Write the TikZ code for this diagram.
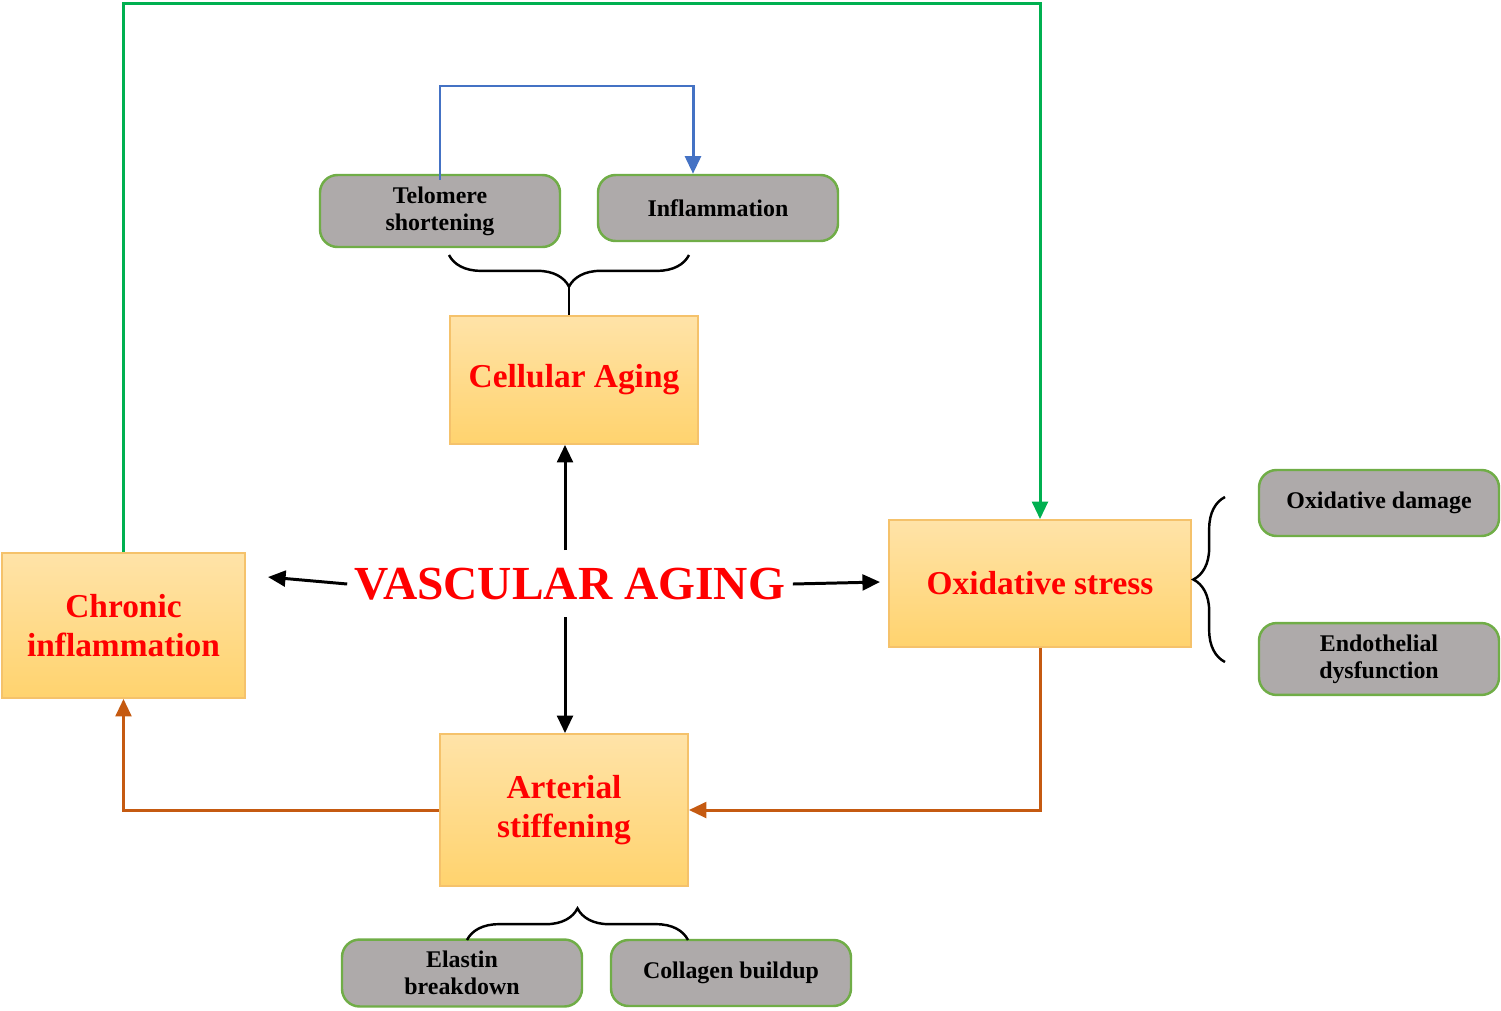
\documentclass[tikz,border=0pt]{standalone}
\usepackage{fontspec}
\setmainfont{Liberation Serif}
\usetikzlibrary{arrows.meta,decorations.pathreplacing}
\definecolor{grayfill}{HTML}{AEAAAA}
\definecolor{leafgreen}{HTML}{70AD47}
\definecolor{boxtop}{HTML}{FFE3A8}
\definecolor{boxbot}{HTML}{FFD36E}
\definecolor{boxline}{HTML}{F5C26B}
\definecolor{loopgreen}{HTML}{00B050}
\definecolor{loopblue}{HTML}{4472C4}
\definecolor{loopbrown}{HTML}{C55A11}
\tikzset{
  subbox/.style={draw=leafgreen, fill=grayfill, rounded corners=5pt, line width=0.7pt,
    minimum width=2.4cm, minimum height=0.66cm, align=center,
    font=\fontsize{6.8}{7.6}\selectfont\bfseries},
  mainbox/.style={draw=boxline, top color=boxtop, bottom color=boxbot, line width=0.5pt,
    align=center, text=red, font=\fontsize{9.5}{11}\selectfont\bfseries},
  blk/.style={-{Triangle[length=5pt,width=4.5pt]}, line width=0.85pt},
  loop/.style={-{Triangle[length=5pt,width=4.5pt]}, line width=0.85pt},
  brc/.style={decorate, decoration={brace, amplitude=9pt}, line width=0.7pt},
}
\begin{document}
\begin{tikzpicture}
\useasboundingbox (0,0) rectangle (15.01,-10.10);
% sub boxes
\node[subbox] (telo) at (4.40,-2.11) {Telomere\\shortening};
\node[subbox] (infl) at (7.18,-2.08) {Inflammation};
\node[subbox] (oxdam) at (13.79,-5.03) {Oxidative damage};
\node[subbox] (endo) at (13.79,-6.59) {Endothelial\\dysfunction};
\node[subbox] (elas) at (4.62,-9.73) {Elastin\\breakdown};
\node[subbox] (coll) at (7.31,-9.73) {Collagen buildup};
% main boxes
\node[mainbox, minimum width=2.48cm, minimum height=1.28cm] (cell) at (5.74,-3.80) {Cellular Aging};
\node[mainbox, minimum width=2.43cm, minimum height=1.45cm] (chron) at (1.235,-6.255) {Chronic\\inflammation};
\node[mainbox, minimum width=3.02cm, minimum height=1.27cm] (oxs) at (10.40,-5.835) {Oxidative stress};
\node[mainbox, minimum width=2.48cm, minimum height=1.52cm] (art) at (5.64,-8.10) {Arterial\\stiffening};
% centre
\node[text=red, font=\fontsize{13.5}{15}\selectfont\bfseries, inner sep=2pt] (vasc) at (5.70,-5.84) {VASCULAR AGING};
\draw[blk] (5.65,-5.50) -- (cell.south -| 5.65,0);
\draw[blk] (vasc.west) -- (2.68,-5.77);
\draw[blk] (vasc.east) -- (8.80,-5.82);
\draw[blk] (5.65,-6.17) -- (art.north -| 5.65,0);
% loops
\draw[loop, loopgreen] (chron.north) -- ++(0,5.49) -| (oxs.north);
\draw[loop, loopblue] (telo.north) ++(0,-0.06) |- (5.5,-0.86) -| (infl.north -| 6.93,0);
\draw[loop, loopbrown] (oxs.south) |- (art.east |- 0,-8.10);
\draw[loop, loopbrown] (art.west |- 0,-8.10) -| (chron.south);
% braces
\draw[brc] (6.89,-2.55) -- (4.49,-2.55);
\draw[brc] (12.25,-6.62) -- (12.25,-4.97);
\draw[brc] (4.67,-9.40) -- (6.88,-9.40);
\draw[line width=0.7pt] (5.69,-2.88) -- (cell.north -| 5.69,0);
\end{tikzpicture}
\end{document}
